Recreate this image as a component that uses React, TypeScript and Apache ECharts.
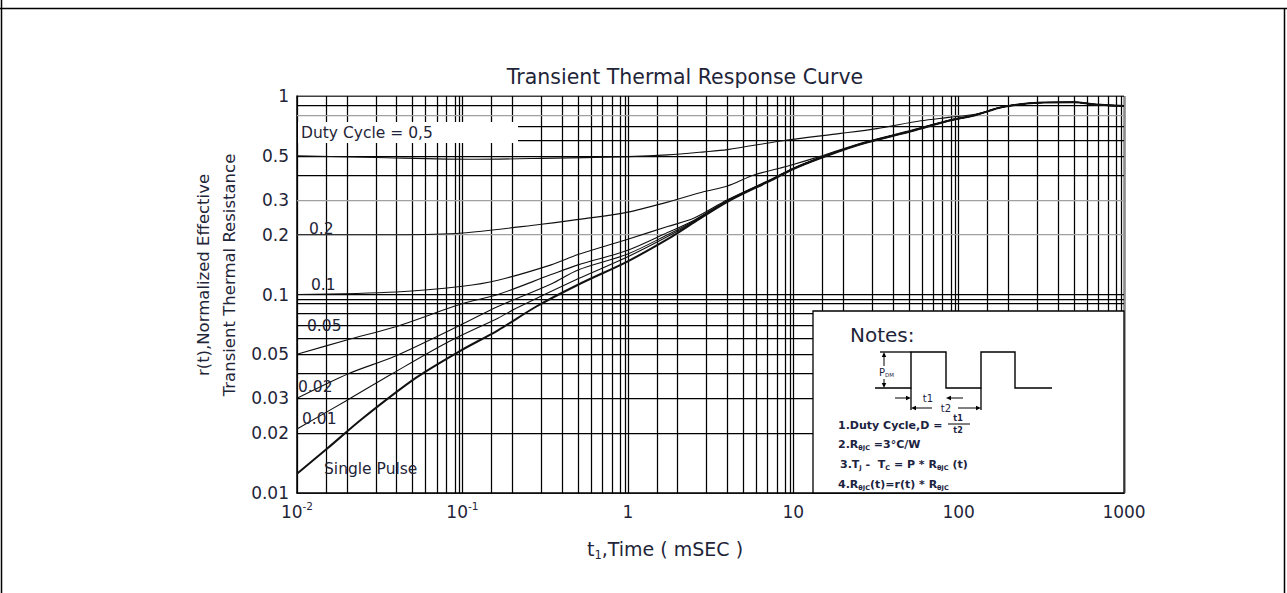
import React, { useEffect, useRef } from "react";
import * as echarts from "echarts";

// ---------------- data ----------------
const X_TICKS = [0.01, 0.1, 1, 10, 100, 1000];
const Y_TICKS = [0.01, 0.02, 0.03, 0.05, 0.1, 0.2, 0.3, 0.5, 1];
const X_DECADES = [0.01, 0.1, 1, 10, 100];
const X_MULTS = [1, 1.5, 2, 3, 4, 5, 6, 7, 8, 9, 9.6];
const Y_DECADES = [0.01, 0.1];
const Y_MULTS = [1, 2, 3, 4, 5, 6, 7, 8, 9];
const Y_EXTRA = [0.095];
const Y_GRAY = [0.8, 0.3, 0.2];

const TAIL = [[184, 0.88], [300, 0.925], [500, 0.93], [680, 0.905], [1000, 0.89]];

const D05 = [[0.01, 0.5], [0.03, 0.49], [0.12, 0.48], [0.3, 0.485], [1, 0.495], [1.74, 0.505], [2.9, 0.523], [4, 0.537], [9.2, 0.6], [19.4, 0.648], [32, 0.685], [59, 0.75], [87, 0.78], [126, 0.81]];
const D02 = [[0.01, 0.2], [0.04, 0.2], [0.1, 0.204], [0.3, 0.226], [0.55, 0.241], [1, 0.26], [1.74, 0.292], [2.9, 0.33], [4, 0.352], [5.8, 0.4], [9.2, 0.443], [14.4, 0.495], [25, 0.575], [53, 0.675], [87, 0.755], [126, 0.805]];
const D01 = [[0.01, 0.1], [0.04, 0.103], [0.1, 0.11], [0.164, 0.118], [0.344, 0.141], [0.5, 0.159], [1, 0.19], [1.74, 0.22], [2.5, 0.242], [4, 0.3], [7.4, 0.382], [10, 0.433], [14.4, 0.488], [25, 0.572], [53, 0.672], [87, 0.752], [126, 0.8]];
const D005 = [[0.01, 0.05], [0.02, 0.059], [0.04, 0.069], [0.1, 0.09], [0.164, 0.1], [0.344, 0.126], [0.5, 0.141], [1, 0.167], [1.74, 0.205], [2.5, 0.236], [4, 0.298], [7.4, 0.38], [10, 0.431], [14.4, 0.487], [25, 0.57], [53, 0.67], [87, 0.75], [126, 0.8]];
const D002 = [[0.01, 0.03], [0.0206, 0.04], [0.0394, 0.049], [0.097, 0.07], [0.164, 0.087], [0.344, 0.113], [0.5, 0.133], [1, 0.16], [1.74, 0.2], [2.5, 0.234], [4, 0.296], [7.4, 0.379], [10, 0.43], [14.4, 0.486], [25, 0.569], [53, 0.669], [87, 0.75], [126, 0.8]];
const D001 = [[0.01, 0.021], [0.0206, 0.0297], [0.0378, 0.04], [0.083, 0.058], [0.164, 0.076], [0.21, 0.085], [0.5, 0.12], [1, 0.155], [1.74, 0.196], [2.5, 0.232], [4, 0.295], [7.4, 0.378], [10, 0.429], [14.4, 0.485], [25, 0.568], [53, 0.668], [87, 0.75], [126, 0.8]];
const SINGLE = [[0.01, 0.0125], [0.0153, 0.0168], [0.025, 0.0238], [0.0523, 0.038], [0.097, 0.052], [0.164, 0.066], [0.28, 0.087], [0.5, 0.112], [1, 0.147], [1.74, 0.19], [2.5, 0.23], [4, 0.293], [7.4, 0.377], [10, 0.428], [14.4, 0.484], [25, 0.568], [53, 0.668], [87, 0.75], [126, 0.8]];

const CURVES = [
  { name: "0.5", data: D05, width: 1.1 },
  { name: "0.2", data: D02, width: 1.1 },
  { name: "0.1", data: D01, width: 1.1 },
  { name: "0.05", data: D005, width: 1.1 },
  { name: "0.02", data: D002, width: 1.1 },
  { name: "0.01", data: D001, width: 1.1 },
  { name: "Single Pulse", data: SINGLE, width: 2.0 },
];

// ---------------- styling ----------------
const FONT = '"DejaVu Sans", "Open Sans", sans-serif';
const TXT = "#1f2538";
const NAVY = "#1c2340";

function arrow(x: number, y: number, dir: string) {
  const s = 5, w = 2.2;
  let pts: number[][];
  if (dir === "right") pts = [[x, y], [x - s, y - w], [x - s, y + w]];
  else if (dir === "left") pts = [[x, y], [x + s, y - w], [x + s, y + w]];
  else if (dir === "up") pts = [[x, y], [x - w, y + s], [x + w, y + s]];
  else pts = [[x, y], [x - w, y - s], [x + w, y - s]];
  return { type: "polygon", z: 22, shape: { points: pts }, style: { fill: "#000" } };
}
function seg(x1: number, y1: number, x2: number, y2: number, w = 1.3, color = "#000", z = 22) {
  return { type: "line", z, shape: { x1, y1, x2, y2 }, style: { stroke: color, lineWidth: w } };
}
function txt(x: number, y: number, text: string, size: number, extra: any = {}) {
  return {
    type: "text", x, y, z: 21,
    style: { text, fontSize: size, fontFamily: FONT, fill: TXT, align: "left", verticalAlign: "middle", ...extra },
  };
}
const noteRich = {
  b: { fontSize: 11, fontWeight: "bold", fontFamily: FONT, fill: NAVY, color: NAVY, lineHeight: 15 },
  s: { fontSize: 6.5, fontWeight: "bold", fontFamily: FONT, fill: NAVY, color: NAVY, lineHeight: 10, verticalAlign: "bottom" },
};

function buildOption() {
  const xMin = X_TICKS[0], xMax = X_TICKS[X_TICKS.length - 1];
  const yMin = Y_TICKS[0], yMax = Y_TICKS[Y_TICKS.length - 1];
  const xGrid = [...X_DECADES.flatMap((d) => X_MULTS.map((m) => Number((d * m).toPrecision(6)))), xMax];
  const yGrid = [...Y_DECADES.flatMap((d) => Y_MULTS.map((m) => Number((d * m).toPrecision(6)))), ...Y_EXTRA, yMax];

  const gridData = [
    ...xGrid.map((v) => ({
      coords: [[v, yMin], [v, yMax]],
      lineStyle: { color: v === xMax ? "#8c8c8c" : "#000", width: v === xMax ? 2.6 : 1.25, opacity: 1 },
    })),
    ...yGrid.map((v) => ({
      coords: [[xMin, v], [xMax, v]],
      lineStyle: { color: Y_GRAY.includes(v) ? "#a0a0a0" : "#000", width: v === yMax ? 1.5 : 1.25, opacity: 1 },
    })),
  ];

  const curveSeries = CURVES.map((c) => ({
    type: "line",
    name: c.name,
    data: [...c.data, ...TAIL],
    showSymbol: false,
    smooth: 0.3,
    z: 5,
    silent: true,
    lineStyle: { color: "#111", width: c.width },
  }));

  const graphics: any[] = [
    // page frame
    seg(0, 8.5, 1287, 8.5, 1.5, "#000", 30),
    seg(1.5, 0, 1.5, 593, 1.5, "#000", 30),
    seg(1284.5, 8, 1284.5, 593, 1.5, "#000", 30),
    // title
    { type: "text", x: 685, y: 77, z: 21, style: { text: "Transient Thermal Response Curve", fontSize: 20.5, fontFamily: FONT, fill: TXT, align: "center", verticalAlign: "middle" } },
    // y axis title
    {
      type: "text", x: 216, y: 275, z: 21, rotation: Math.PI / 2,
      style: { text: "r(t),Normalized Effective\nTransient Thermal Resistance", fontSize: 16.5, lineHeight: 26, fontFamily: FONT, fill: TXT, align: "center", verticalAlign: "middle" },
    },
    // x axis title
    {
      type: "text", x: 665, y: 549, z: 21,
      style: {
        text: "{a|t}{s|1}{a|,Time ( mSEC )}", align: "center", verticalAlign: "middle",
        rich: {
          a: { fontSize: 19, fontFamily: FONT, fill: TXT, color: TXT, lineHeight: 24 },
          s: { fontSize: 11.5, fontFamily: FONT, fill: TXT, color: TXT, lineHeight: 14, verticalAlign: "bottom" },
        },
      },
    },
    // duty cycle label box
    { type: "rect", z: 20, shape: { x: 298, y: 122, width: 220, height: 21 }, style: { fill: "#fff" } },
    txt(301, 133, "Duty Cycle = 0,5", 15.5),
    txt(309, 229, "0.2", 15.5),
    txt(311, 285, "0.1", 15.5),
    txt(307, 326, "0.05", 15.5),
    txt(298, 387, "0.02", 15.5),
    txt(302, 419, "0.01", 15.5),
    txt(324, 469, "Single Pulse", 15.5),
    // notes box
    { type: "rect", z: 20, shape: { x: 813, y: 311, width: 311, height: 182 }, style: { fill: "#fff", stroke: "#000", lineWidth: 1.3 } },
    txt(850, 335, "Notes:", 20),
    {
      type: "polyline", z: 22,
      shape: { points: [[875, 388], [911, 388], [911, 352], [946, 352], [946, 388], [981, 388], [981, 352], [1015, 352], [1015, 388], [1052, 388]] },
      style: { stroke: "#000", lineWidth: 1.4, fill: "none" },
    },
    seg(880, 352, 911, 352),
    seg(911, 388, 911, 410),
    seg(981, 388, 981, 410),
    // P_DM arrow
    seg(884, 356, 884, 366, 1),
    arrow(884, 352, "up"),
    seg(884, 379, 884, 384, 1),
    arrow(884, 388, "down"),
    {
      type: "text", x: 879, y: 372, z: 21,
      style: {
        text: "{p|P}{d|DM}", align: "left", verticalAlign: "middle",
        rich: {
          p: { fontSize: 10, fontFamily: FONT, fill: NAVY, color: NAVY, lineHeight: 12 },
          d: { fontSize: 5.5, fontFamily: FONT, fill: NAVY, color: NAVY, lineHeight: 8, verticalAlign: "bottom" },
        },
      },
    },
    // t1 arrows
    seg(895, 398, 907, 398, 1),
    arrow(911, 398, "right"),
    txt(928, 398, "t1", 10, { align: "center", fill: NAVY }),
    seg(950, 398, 963, 398, 1),
    arrow(946, 398, "left"),
    // t2 arrows
    seg(915, 408, 932, 408, 1),
    arrow(911, 408, "left"),
    txt(946, 408, "t2", 10, { align: "center", fill: NAVY }),
    seg(958, 408, 977, 408, 1),
    arrow(981, 408, "right"),
    // note lines
    { type: "text", x: 838, y: 425, z: 21, style: { text: "{b|1.Duty Cycle,D =}", rich: noteRich, align: "left", verticalAlign: "middle" } },
    txt(958, 418, "t1", 8, { align: "center", fill: NAVY, fontWeight: "bold" }),
    seg(948, 424, 970, 424, 1),
    txt(958, 430, "t2", 8, { align: "center", fill: NAVY, fontWeight: "bold" }),
    { type: "text", x: 838, y: 444, z: 21, style: { text: "{b|2.R}{s|θJC}{b| =3°C/W}", rich: noteRich, align: "left", verticalAlign: "middle" } },
    { type: "text", x: 840, y: 464, z: 21, style: { text: "{b|3.T}{s|J}{b| -  T}{s|C}{b| = P * R}{s|θJC}{b| (t)}", rich: noteRich, align: "left", verticalAlign: "middle" } },
    { type: "text", x: 838, y: 484, z: 21, style: { text: "{b|4.R}{s|θJC}{b|(t)=r(t) * R}{s|θJC}", rich: noteRich, align: "left", verticalAlign: "middle" } },
  ];

  return {
    animation: false,
    backgroundColor: "#fff",
    grid: { left: 297, top: 96, right: 163, bottom: 100, containLabel: false },
    xAxis: {
      type: "log",
      logBase: 10,
      min: xMin,
      max: xMax,
      axisLine: { show: true, lineStyle: { color: "#000", width: 1.5 } },
      axisTick: { show: false },
      splitLine: { show: false },
      minorSplitLine: { show: false },
      axisLabel: {
        customValues: X_TICKS,
        margin: 7,
        formatter: (v: number) => {
          const e = Math.round(Math.log10(v));
          return e < 0 ? `{b|10}{s|${e}}` : `{b|${Math.round(v)}}`;
        },
        rich: {
          b: { fontSize: 17, fontFamily: FONT, color: TXT, lineHeight: 24 },
          s: { fontSize: 10.5, fontFamily: FONT, color: TXT, lineHeight: 13, verticalAlign: "top" },
        },
      },
    },
    yAxis: {
      type: "log",
      logBase: 10,
      min: yMin,
      max: yMax,
      axisLine: { show: true, lineStyle: { color: "#000", width: 1.5 } },
      axisTick: { show: false },
      splitLine: { show: false },
      minorSplitLine: { show: false },
      axisLabel: {
        customValues: Y_TICKS,
        margin: 8,
        fontSize: 17,
        fontFamily: FONT,
        color: TXT,
        formatter: (v: number) => String(Number(v.toPrecision(6))),
      },
    },
    series: [
      {
        type: "lines",
        coordinateSystem: "cartesian2d",
        polyline: false,
        silent: true,
        z: 1,
        symbol: ["none", "none"],
        lineStyle: { color: "#000", width: 1.25, opacity: 1 },
        data: gridData,
      },
      ...curveSeries,
    ],
    graphic: { elements: graphics },
  };
}

export default function App() {
  const ref = useRef<HTMLDivElement>(null);
  useEffect(() => {
    if (!ref.current) return;
    const chart = echarts.init(ref.current, null, { renderer: "svg" });
    chart.setOption(buildOption() as any);
    return () => chart.dispose();
  }, []);
  return (
    <div
      ref={ref}
      style={{ position: "fixed", left: 0, top: 0, width: 1287, height: 593, background: "#fff" }}
    />
  );
}
